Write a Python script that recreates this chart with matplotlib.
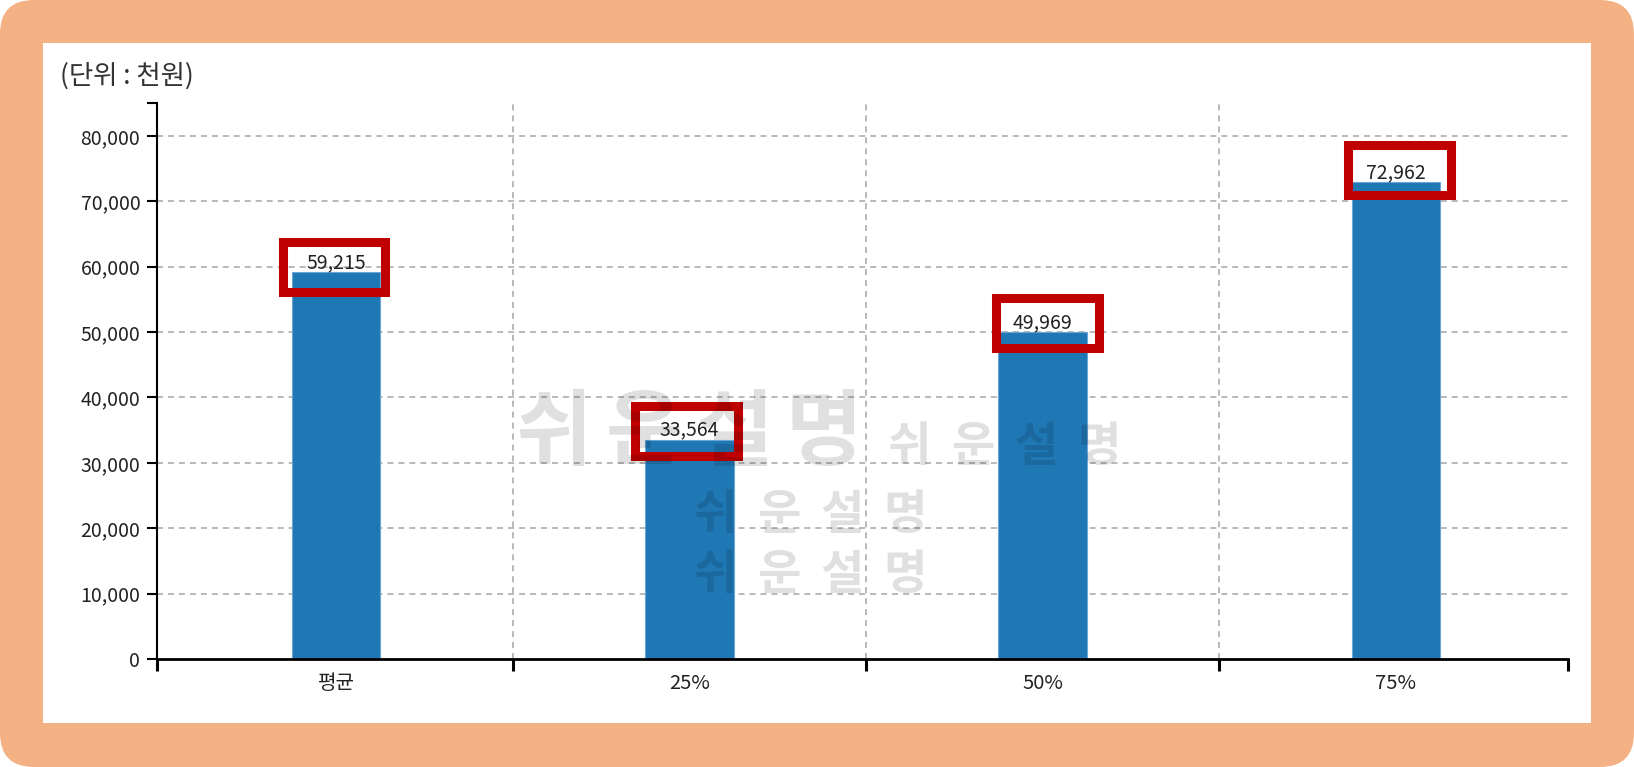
import matplotlib
matplotlib.use("Agg")
import matplotlib.pyplot as plt
from matplotlib.patches import FancyBboxPatch, Rectangle
from matplotlib.ticker import FuncFormatter, FixedLocator

plt.rcParams['font.family'] = ['Noto Sans CJK KR', 'DejaVu Sans']
plt.rcParams['lines.scale_dashes'] = False

# ---- data ----
categories = ['평균', '25%', '50%', '75%']
values = [59215, 33564, 49969, 72962]
y_ticks = [0, 10000, 20000, 30000, 40000, 50000, 60000, 70000, 80000]
unit_label = '(단위 : 천원)'
watermark = '쉬운설명'

# ---- styling (hand-drawn highlight box offsets, px) ----
box_dx_px = [-2, -3, 5, 3.5]
box_dy_px = [5, 9, 9.5, 12.4]

W, H = 1634, 767
DPI = 100
fig = plt.figure(figsize=(W / DPI, H / DPI), dpi=DPI)
fig.patch.set_facecolor('white')

def fx(px):
    return px / W

def fy(py):
    return 1 - py / H

# orange frame + white panel
frame = FancyBboxPatch((0, 0), W, H, boxstyle="round,pad=0,rounding_size=34",
                       transform=None, facecolor='#F4B183', edgecolor='none', zorder=-10)
fig.patches.append(frame)
panel = Rectangle((fx(43), fy(723)), fx(1591) - fx(43), fy(43) - fy(723),
                  transform=fig.transFigure, facecolor='white', edgecolor='none', zorder=-9)
fig.patches.append(panel)

# axes
ax_l, ax_r, ax_t, ax_b = 157, 1568, 103.3, 659
band_start, step = 159.4, 353.3
ax = fig.add_axes([fx(ax_l), fy(ax_b), fx(ax_r) - fx(ax_l), fy(ax_t) - fy(ax_b)])
ax.set_facecolor('none')
ymax = 85000
x_lo = -0.5 + (ax_l - band_start) / step
x_hi = -0.5 + (ax_r - band_start) / step
ax.set_xlim(x_lo, x_hi)
ax.set_ylim(0, ymax)

ppx = step                      # px per x unit
ppy = (ax_b - ax_t) / ymax      # px per y unit

text_color = '#222222'
grid_color = '#b3b3b3'

# gridlines
for t in y_ticks[1:]:
    ax.axhline(t, color=grid_color, lw=1.3, dashes=(4.3, 3.6), zorder=0.5)
for b in range(1, len(categories)):
    ax.axvline(b - 0.5, color=grid_color, lw=1.3, dashes=(4.3, 3.6), zorder=0.5)

# bars
x = list(range(len(categories)))
ax.bar(x, values, width=0.25, color='#1f77b4', edgecolor='#6aa6d6', linewidth=0.8, zorder=2)

# spines
for s in ['top', 'right']:
    ax.spines[s].set_visible(False)
ax.spines['left'].set_linewidth(1.5)
ax.spines['bottom'].set_linewidth(2.0)
ax.spines['left'].set_color('black')
ax.spines['bottom'].set_color('black')

# y ticks (plus outer tick at top)
ax.set_yticks(y_ticks + [ymax])
ax.yaxis.set_major_formatter(FuncFormatter(lambda v, p: '' if v > y_ticks[-1] else f'{int(v):,}'))
ax.tick_params(axis='y', length=7, width=1.5, pad=5, labelsize=14, labelcolor=text_color, color='black')

# x ticks: labels at centres, boundary ticks as minor
ax.set_xticks(x)
ax.set_xticklabels(categories)
ax.tick_params(axis='x', which='major', length=0, pad=10, labelsize=14.5, labelcolor=text_color)
ax.xaxis.set_minor_locator(FixedLocator([x_lo + 1e-6] + [i + 0.5 for i in range(len(categories) - 1)] + [x_hi - 1e-6]))
ax.tick_params(axis='x', which='minor', length=8.6, width=2.2, color='black', direction='out')

# watermark (semi-transparent)
wm_kw = dict(transform=fig.transFigure, ha='center', va='center', color='black', alpha=0.12, zorder=3)
big_x0, big_pitch, big_y = 554, 90, 434
for k, ch in enumerate(watermark):
    fig.text(fx(big_x0 + k * big_pitch), fy(big_y), ch, fontsize=60, fontweight='bold', **wm_kw)
small_rows = [(910, 447), (716, 515), (716, 575)]
for (sx, sy) in small_rows:
    for k, ch in enumerate(watermark):
        fig.text(fx(sx + k * 63), fy(sy), ch, fontsize=34, fontweight='bold', **wm_kw)

# value labels and red highlight boxes
box_w_px, box_h_px = 102.5, 50
for i, v in enumerate(values):
    ax.annotate(f'{v:,}', (i, v), xytext=(0, 2.8), textcoords='offset points',
                ha='center', va='baseline', fontsize=14, color=text_color, zorder=6)
    cx = i + box_dx_px[i] / ppx
    cy = v + box_dy_px[i] / ppy
    ax.add_patch(Rectangle((cx - box_w_px / 2 / ppx, cy - box_h_px / 2 / ppy),
                           box_w_px / ppx, box_h_px / ppy,
                           facecolor='none', edgecolor='#C00000', linewidth=6.5,
                           joinstyle='miter', zorder=5, clip_on=False))

# unit label
fig.text(fx(60), fy(76), unit_label, ha='left', va='center', fontsize=19, color='#333333')

fig.savefig('out.png', dpi=DPI)
